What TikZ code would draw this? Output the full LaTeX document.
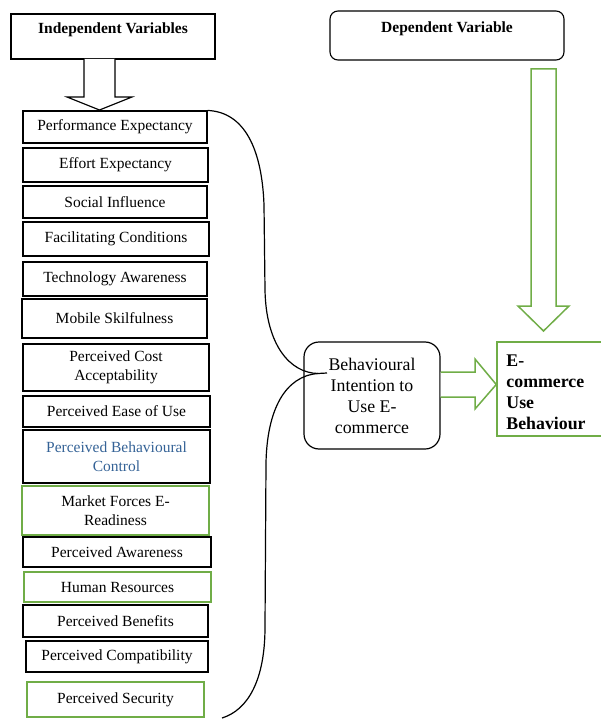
\documentclass[tikz,border=0pt]{standalone}
\usepackage{fontspec}
\setmainfont{Liberation Serif}
\definecolor{grn}{RGB}{112,173,71}
\definecolor{bluetxt}{RGB}{52,98,150}
\begin{document}
\begin{tikzpicture}[x=1pt,y=-1pt,
  vbox/.style={draw=black, line width=1.1pt, inner sep=0pt, align=center,
    font=\fontsize{15.5}{18.5}\selectfont},
  gbox/.style={vbox, draw=grn, line width=1.3pt},
  headbox/.style={draw=black, line width=1.1pt, inner sep=0pt,
    font=\bfseries\fontsize{15.5}{18.5}\selectfont},
  bracecurve/.style={draw=black, line width=1.2pt},
  hollowblack/.style={draw=black, line width=1.2pt, fill=white},
  hollowgreen/.style={draw=grn, line width=1.5pt, fill=white}]
\useasboundingbox (0,0) rectangle (601,719);

% header boxes
\node[headbox, minimum width=204pt, text height=20pt, text depth=25pt] (iv) at (113,36.5) {Independent Variables};
\node[headbox, rounded corners=8pt, minimum width=234pt, text height=22pt, text depth=27pt] (dv) at (447,35.5) {Dependent Variable};

% left column
\node[vbox, minimum width=184pt, minimum height=32pt] (n1) at (115,127) {Performance Expectancy};
\node[vbox, minimum width=185pt, minimum height=34pt] (n2) at (115.5,165) {Effort Expectancy};
\node[vbox, minimum width=184pt, minimum height=32pt] (n3) at (115,202) {Social Influence};
\node[vbox, minimum width=186pt, minimum height=34pt] (n4) at (116,239) {Facilitating Conditions};
\node[vbox, minimum width=184pt, minimum height=34pt] (n5) at (115,279) {Technology Awareness};
\node[vbox, minimum width=185pt, minimum height=39pt] (n6) at (114.5,318.5) {Mobile Skilfulness};
\node[vbox, minimum width=186pt, minimum height=47pt] (n7) at (116,367.5) {Perceived Cost\\Acceptability};
\node[vbox, minimum width=187pt, minimum height=31pt] (n8) at (116.5,411.5) {Perceived Ease of Use};
\node[vbox, minimum width=187pt, minimum height=53pt, text=bluetxt] (n9) at (116.5,456.5) {Perceived Behavioural\\Control};
\node[gbox, minimum width=187pt, minimum height=49pt] (n10) at (115.5,510.5) {Market Forces E-\\Readiness};
\node[vbox, minimum width=188pt, minimum height=30pt] (n11) at (117,552) {Perceived Awareness};
\node[gbox, minimum width=187pt, minimum height=30pt] (n12) at (117.5,587) {Human Resources};
\node[vbox, minimum width=185pt, minimum height=32pt] (n13) at (115.5,621) {Perceived Benefits};
\node[vbox, minimum width=182pt, minimum height=31pt] (n14) at (117,656.5) {Perceived Compatibility};
\node[gbox, minimum width=177pt, minimum height=35pt] (n15) at (115.5,699.5) {Perceived Security};

% middle and right boxes
\node[draw=black, line width=1.2pt, rounded corners=15pt, minimum width=136pt, minimum height=107pt,
  inner sep=0pt, align=center, font=\fontsize{17.8}{21}\selectfont] (bi) at (372,395.5)
  {Behavioural\\Intention to\\Use E-\\commerce};
\node[draw=grn, line width=1.5pt, minimum width=106pt, minimum height=94pt, inner sep=0pt,
  font=\bfseries\fontsize{17.8}{21}\selectfont] (eu) at (550,389) {};
\node[anchor=west, inner sep=0pt, align=left, font=\bfseries\fontsize{17.8}{21}\selectfont] (eut) at ([xshift=10pt,yshift=-3pt]eu.west) {E-\\commerce\\Use\\Behaviour};

% hollow arrows
\draw[hollowblack] (84,59) -- (84,97) -- (67,97) -- (99.5,110) -- (132,97) -- (115,97) -- (115,59);
\draw[hollowgreen] (531,69) -- (556,69) -- (556,306) -- (569,306) -- (543.5,331) -- (518,306) -- (531,306) -- cycle;
\draw[hollowgreen] (bi.east |- 0,372) -- (475,372) -- (475,359) -- (eu.west |- 0,384.5) -- (475,409) -- (475,397) -- (bi.east |- 0,397);

% brace
\coordinate (tip) at (327,373);
\coordinate (bend) at (318,373.5);
\coordinate (bottomend) at (222,718);
\draw[bracecurve] (n1.north east) .. controls (245,112) and (262,150) .. (264,205)
  -- (265,290) .. controls (266,345) and (290,373) .. (bend) -- (tip);
\draw[bracecurve] (bend) .. controls (285,376) and (267,410) .. (266,463)
  -- (265,627) .. controls (265,680) and (248,710) .. (bottomend);
\end{tikzpicture}
\end{document}
